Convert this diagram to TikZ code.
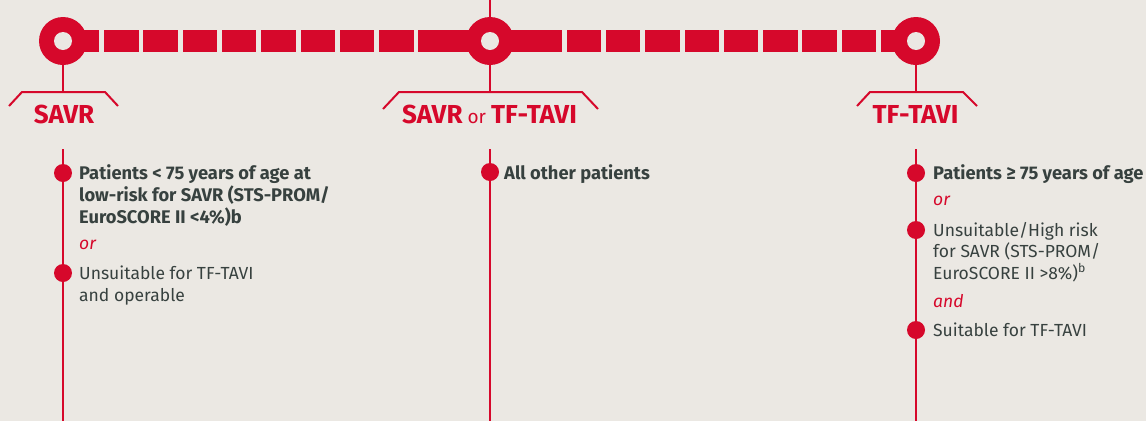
\documentclass[tikz,border=0pt]{standalone}
\usepackage{fontspec}
\setmainfont{Fira Sans}
\definecolor{bg}{HTML}{EBE8E3}
\definecolor{tred}{HTML}{D6082B}
\definecolor{tgray}{HTML}{37413F}
\begin{document}
\begin{tikzpicture}[x=1pt,y=-1pt,
 redline/.style={draw=tred,line width=2pt},
 hub/.style={circle,fill=tred,minimum size=48pt,inner sep=0pt},
 hole/.style={circle,fill=bg,minimum size=18pt,inner sep=0pt},
 bullet/.style={circle,fill=tred,minimum size=18pt,inner sep=0pt},
 txt/.style={anchor=base west,inner sep=0pt,text=tgray,font=\fontsize{17.5}{22}\selectfont},
 btxt/.style={anchor=base west,inner sep=0pt,text=tgray,font=\fontsize{18.3}{22}\selectfont\bfseries},
 conj/.style={anchor=base west,inner sep=0pt,text=tred,font=\fontsize{17.5}{22}\selectfont\itshape},
 lab/.style={anchor=base,inner sep=0pt,text=tred,font=\fontsize{26}{28}\selectfont\bfseries}]
\fill[bg] (0,0) rectangle (1146,421);
\useasboundingbox (0,0) rectangle (1146,421);
% timeline bar
\fill[tred] (63,29.5) rectangle (99,52);
\foreach \k in {0,...,8} \fill[tred] ({104+39.3*\k},29.5) rectangle ++(34.5,22.5);
\fill[tred] (453.4,29.5) rectangle (527,52);
\foreach \k in {0,...,8} \fill[tred] ({527.3+39.3*\k},29.5) rectangle ++(34.5,22.5);
\fill[tred] (880.7,29.5) rectangle (916,52);
% top line into middle hub
\coordinate (ctop) at (490,0);
% hubs
\node[hub] (h1) at (63,41) {};
\node[hub] (h2) at (490,41) {};
\node[hub] (h3) at (916,41) {};
\node[hole] (o1) at (h1) {};
\node[hole] (o2) at (h2) {};
\node[hole] (o3) at (h3) {};
\draw[redline] (ctop) -- (h2.north);
% brackets
\coordinate (b1) at (63,92);
\coordinate (b2) at (490,92);
\coordinate (b3) at (916,92);
\draw[redline] (h1.south) -- (b1);
\draw[redline] (h2.south) -- (b2);
\draw[redline] (h3.south) -- (b3);
\draw[redline,line join=miter] (9,106) -- (22,92) -- (105,92) -- (118,106);
\draw[redline,line join=miter] (383,109) -- (399,92) -- (582,92) -- (598,109);
\draw[redline,line join=miter] (857,106) -- (870,92) -- (963,92) -- (977,106);
% labels
\node[lab] (lab1) at (64,123) {SAVR};
\node[lab] (lab2) at (489.5,123) {SAVR{\mdseries\fontsize{19}{20}\selectfont\ or }TF-TAVI};
\node[lab] (lab3) at (915.5,123) {TF-TAVI};
% column lines
\coordinate (t1) at (63,149); \coordinate (e1) at (63,421);
\coordinate (t2) at (490,149); \coordinate (e2) at (490,421);
\coordinate (t3) at (916,149); \coordinate (e3) at (916,421);
\draw[redline] (t1) -- (e1);
\draw[redline] (t2) -- (e2);
\draw[redline] (t3) -- (e3);
% bullets
\node[bullet] (p1) at (63,173) {};
\node[bullet] (p2) at (63,273) {};
\node[bullet] (q1) at (490,172) {};
\node[bullet] (s1) at (916,173) {};
\node[bullet] (s2) at (916,230) {};
\node[bullet] (s3) at (916,330) {};
% left column text
\node[btxt] (l1) at (79,179.5) {Patients < 75 years of age at};
\node[btxt] (l2) at (79,201.5) {low-risk for SAVR (STS-PROM/};
\node[btxt] (l3) at (79,223.5) {EuroSCORE II <4\%)b};
\node[conj] (lor) at (79,249) {or};
\node[txt] (l4) at (79,279) {Unsuitable for TF-TAVI};
\node[txt] (l5) at (79,301) {and operable};
% middle column text
\node[btxt] (m1) at (504,179) {All other patients};
% right column text
\node[btxt] (r1) at (933,179) {Patients ≥ 75 years of age};
\node[conj] (ror) at (933,205) {or};
\node[txt] (r2) at (933,236) {Unsuitable/High risk};
\node[txt] (r3) at (933,257.5) {for SAVR (STS-PROM/};
\node[txt] (r4) at (933,279) {EuroSCORE II >8\%)\textsuperscript{b}};
\node[conj] (rand) at (933,307) {and};
\node[txt] (r5) at (933,336) {Suitable for TF-TAVI};
\end{tikzpicture}
\end{document}
